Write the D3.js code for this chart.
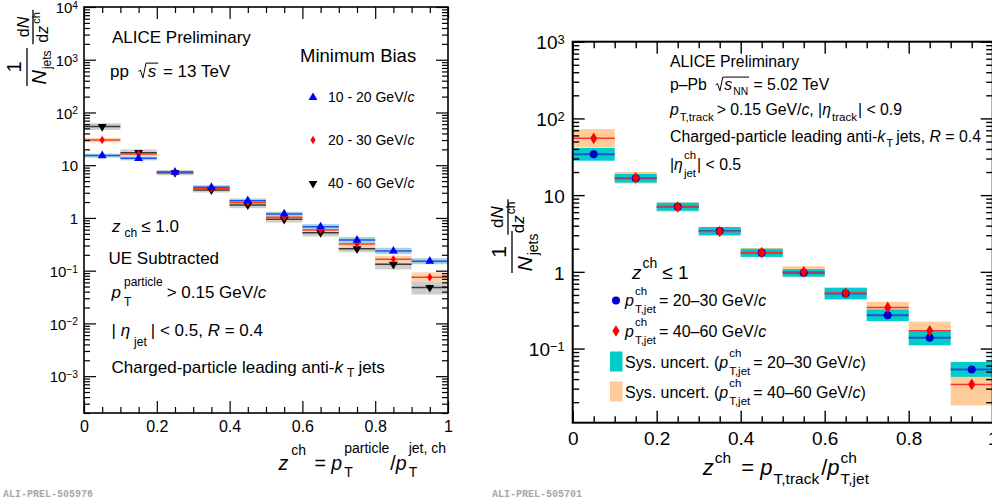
<!DOCTYPE html>
<html>
<head>
<meta charset="utf-8">
<script src="https://cdn.jsdelivr.net/npm/d3@7"></script>
<style>
  body { margin: 0; background: #fff; }
  svg { display: block; }
  text { font-family: "Liberation Sans", Arial, Helvetica, sans-serif; fill: #000; white-space: pre; }
</style>
</head>
<body>
<svg id="chart" width="992" height="500"></svg>
<script>
// ---- data ----
const zEdges = [0, 0.1, 0.2, 0.3, 0.4, 0.5, 0.6, 0.7, 0.8, 0.9, 1.0];
const xTickVals = [0, 0.2, 0.4, 0.6, 0.8, 1];

// pp 13 TeV, minimum bias (left)
const ppBins = ['10 - 20 GeV/', '20 - 30 GeV/', '40 - 60 GeV/'];
const pp1020 = [15.2, 13.5, 7.4, 3.8, 2.12, 1.19, 0.68, 0.38, 0.236, 0.151];
const pp2030 = [30, 16.3, 7.3, 3.6, 1.95, 1.03, 0.59, 0.32, 0.164, 0.075];
const pp4060 = [54, 17.3, 7.2, 3.4, 1.76, 0.94, 0.525, 0.26, 0.132, 0.048];
// systematic uncertainty as a multiplicative factor (box = value / f .. value * f)
const pp1020Sys = [1.09, 1.09, 1.08, 1.1, 1.1, 1.1, 1.12, 1.14, 1.15, 1.14];
const pp2030Sys = [1.1, 1.1, 1.08, 1.1, 1.14, 1.16, 1.18, 1.17, 1.17, 1.24];
const pp4060Sys = [1.155, 1.15, 1.12, 1.12, 1.15, 1.15, 1.18, 1.16, 1.25, 1.36];
const ppYTicks = [1e-3, 1e-2, 1e-1, 1, 10, 100, 1e3, 1e4];

// p-Pb 5.02 TeV (right)
const pPbBins = ['20\u201330 GeV/', '40\u201360 GeV/'];
const pPb2030 = [34, 16.6, 7.06, 3.4, 1.77, 0.97, 0.52, 0.271, 0.138, 0.0535];
const pPb4060 = [55, 16.8, 7.0, 3.35, 1.78, 1.0, 0.53, 0.344, 0.171, 0.0341];
const pPb2030Sys = [1.21, 1.14, 1.13, 1.13, 1.13, 1.12, 1.19, 1.19, 1.25, 1.25];
const pPb4060Sys = [1.32, 1.19, 1.15, 1.15, 1.15, 1.18, 1.18, 1.18, 1.31, 1.87];
const pPbYTicks = [0.1, 1, 10, 100, 1000];

const svg = d3.select('#chart');

// text with italics / sub / sup, laid out piece by piece
function rich(g, x, y, parts, size, anchor) {
  const grp = g.append('g');
  let cx = 0;
  const put = (t, dx, dy, fs, ital) => {
    const el = grp.append('text').attr('xml:space', 'preserve')
      .attr('x', cx + dx).attr('y', dy).attr('font-size', fs).text(t);
    if (ital) el.attr('font-style', 'italic');
    return el.node().getComputedTextLength();
  };
  parts.forEach(p => {
    if (typeof p === 'string') { cx += put(p, 0, 0, size); return; }
    if (p.sqrt) {
      const h = size * 0.8;
      const sx = cx;
      cx += size * 0.55;
      let w = put(p.sqrt, 0, 0, size, true);
      if (p.sqrtSub) w += put(p.sqrtSub, w + 1, size * 0.3, size * 0.65);
      grp.append('path')
        .attr('d', `M${sx},${-h * 0.42}L${sx + size * 0.12},${-h * 0.5}L${sx + size * 0.27},${size * 0.05}L${sx + size * 0.45},${-h * 1.02}L${cx + w + 2},${-h * 1.02}`)
        .attr('fill', 'none').attr('stroke', '#000').attr('stroke-width', 1);
      cx += w + 2;
      return;
    }
    if (p.i) cx += put(p.i, 0, 0, size, true);
    if (p.sup || p.sub) {
      const fs = p.fs || size * 0.7;
      const dx = p.dx || 1;
      const w1 = p.sup ? put(p.sup, dx, p.sy !== undefined ? p.sy : -size * 0.45, fs) : 0;
      const w2 = p.sub ? put(p.sub, dx, p.by !== undefined ? p.by : size * 0.32, fs) : 0;
      cx += Math.max(w1, w2) + dx + (p.after || 1);
    }
  });
  const off = anchor === 'end' ? cx : anchor === 'middle' ? cx / 2 : 0;
  grp.attr('transform', `translate(${x - off},${y})`);
  return cx;
}

// rotated fraction used in the y titles; bar at screen (bx, cy)
function frac(bx, cy, num, den, size) {
  const g = svg.append('g').attr('transform', `translate(${bx},${cy}) rotate(-90)`);
  const w1 = rich(g, 0, -size * 0.28, num, size, 'middle');
  const w2 = rich(g, 0, size * 0.95, den, size, 'middle');
  const w = Math.max(w1, w2) + 3;
  g.append('line').attr('x1', -w / 2).attr('x2', w / 2).attr('stroke', '#000').attr('stroke-width', 1.3);
}

function logMinors(y) {
  const [a, b] = y.domain();
  const out = [];
  for (let e = Math.floor(Math.log10(a)); e <= Math.ceil(Math.log10(b)); e++) {
    for (let m = 2; m <= 9; m++) {
      const v = m * Math.pow(10, e);
      if (v >= a && v <= b) out.push(v);
    }
  }
  return out;
}

function powLabels(sel, fs) {
  sel.selectAll('.tick text').each(function (d) {
    const e = Math.round(Math.log10(d));
    const t = d3.select(this).text('').attr('dy', '0.38em');
    if (e === 0) t.text('1');
    else if (e === 1) t.text('10');
    else {
      t.append('tspan').text('10');
      t.append('tspan').attr('dy', '-0.42em').attr('font-size', fs * 0.68).text(e < 0 ? '\u2212' + (-e) : e);
    }
  });
}

function axes(x, y, yTicks, c) {
  const [x0, x1] = x.range();
  const [y0, y1] = y.range();
  const xMinor = d3.range(0, 1.0001, 0.05).filter(v => Math.abs(v * 5 - Math.round(v * 5)) > 1e-6);
  const yMinor = logMinors(y);
  const g = svg.append('g');
  const tidy = s => { s.select('.domain').remove(); s.selectAll('.tick line').attr('stroke-width', c.tw); };

  const bx = g.append('g').attr('transform', `translate(0,${y0})`)
    .call(d3.axisBottom(x).tickValues(xTickVals).tickSize(-c.big).tickPadding(c.xPad).tickFormat(d3.format('~g')))
    .attr('font-size', c.xfs).attr('font-family', null);
  tidy(bx);
  g.append('g').attr('transform', `translate(0,${y0})`)
    .call(d3.axisBottom(x).tickValues(xMinor).tickSize(-c.small).tickFormat('')).call(tidy);
  g.append('g').attr('transform', `translate(0,${y1})`)
    .call(d3.axisTop(x).tickValues(xTickVals).tickSize(-c.big).tickFormat('')).call(tidy);
  g.append('g').attr('transform', `translate(0,${y1})`)
    .call(d3.axisTop(x).tickValues(xMinor).tickSize(-c.small).tickFormat('')).call(tidy);

  const ly = g.append('g').attr('transform', `translate(${x0},0)`)
    .call(d3.axisLeft(y).tickValues(yTicks).tickSize(-c.big).tickPadding(c.yPad))
    .attr('font-size', c.yfs).attr('font-family', null);
  tidy(ly);
  powLabels(ly, c.yfs);
  g.append('g').attr('transform', `translate(${x0},0)`)
    .call(d3.axisLeft(y).tickValues(yMinor).tickSize(-c.small).tickFormat('')).call(tidy);
  g.append('g').attr('transform', `translate(${x1},0)`)
    .call(d3.axisRight(y).tickValues(yTicks).tickSize(-c.big).tickFormat('')).call(tidy);
  g.append('g').attr('transform', `translate(${x1},0)`)
    .call(d3.axisRight(y).tickValues(yMinor).tickSize(-c.small).tickFormat('')).call(tidy);

  g.append('rect').attr('x', x0).attr('y', y1).attr('width', x1 - x0).attr('height', y0 - y1)
    .attr('fill', 'none').attr('stroke', '#000').attr('stroke-width', c.fw);
}

function boxes(g, x, y, vals, sys, color) {
  g.append('g').selectAll('rect').data(vals).join('rect')
    .attr('x', (d, i) => x(zEdges[i]))
    .attr('width', (d, i) => x(zEdges[i + 1]) - x(zEdges[i]))
    .attr('y', (d, i) => y(d * sys[i]))
    .attr('height', (d, i) => y(d / sys[i]) - y(d * sys[i]))
    .attr('fill', color);
}

function hlines(g, x, y, vals, color, lw) {
  g.append('g').selectAll('line').data(vals).join('line')
    .attr('x1', (d, i) => x(zEdges[i])).attr('x2', (d, i) => x(zEdges[i + 1]))
    .attr('y1', d => y(d)).attr('y2', d => y(d))
    .attr('stroke', color).attr('stroke-width', lw);
}

const mid = i => (zEdges[i] + zEdges[i + 1]) / 2;
const triUp = d3.symbol(d3.symbolTriangle, 34)();
const diamond = (w, h) => `M0,${-h}L${w},0L0,${h}L${-w},0Z`;

function markers(g, x, y, vals, shape, color, rot) {
  g.append('g').selectAll('path').data(vals).join('path')
    .attr('d', shape)
    .attr('transform', (d, i) => `translate(${x(mid(i))},${y(d)})` + (rot ? ' rotate(180)' : ''))
    .attr('fill', color);
}

// ================= left panel: pp 13 TeV =================
const xL = d3.scaleLinear().domain([0, 1]).range([84, 448]);
const yL = d3.scaleLog().domain([2e-4, 1e4]).range([413, 7]);
const gL = svg.append('g');

boxes(gL, xL, yL, pp4060, pp4060Sys, '#cdcdcd');
boxes(gL, xL, yL, pp2030, pp2030Sys, '#fdd2ac');
boxes(gL, xL, yL, pp1020, pp1020Sys, '#a2d5da');
hlines(gL, xL, yL, pp4060, '#3a3a3a', 1.5);
hlines(gL, xL, yL, pp2030, '#ff3b1e', 1.5);
hlines(gL, xL, yL, pp1020, '#2a4cf5', 1.5);
markers(gL, xL, yL, pp4060, triUp, '#000', true);
markers(gL, xL, yL, pp2030, diamond(2.6, 4.2), '#ff0000');
markers(gL, xL, yL, pp1020, triUp, '#0000ff');

axes(xL, yL, ppYTicks, { big: 12, small: 6, tw: 1.2, fw: 1.6, xPad: 7.5, yPad: 6, xfs: 16, yfs: 15 });

// left texts
rich(svg, 112, 43, ['ALICE Preliminary'], 17);
rich(svg, 110, 77, ['pp  ', { sqrt: 's' }, ' = 13 TeV'], 17);
rich(svg, 300, 62, ['Minimum Bias'], 18.5);
const legY = [97.5, 140, 183.5];
const legShapes = [[triUp, '#0000ff', false], [diamond(2.6, 4.2), '#ff0000', false], [triUp, '#000', true]];
ppBins.forEach((lab, k) => {
  svg.append('path').attr('d', legShapes[k][0]).attr('fill', legShapes[k][1])
    .attr('transform', `translate(313,${legY[k]})` + (legShapes[k][2] ? ' rotate(180)' : ''));
  rich(svg, 328, legY[k] + 4.5, [lab, { i: 'c' }], 14);
});
rich(svg, 112, 231.7, [{ i: 'z' }, { sub: 'ch', by: 5.5, dx: 4, fs: 12, after: 4 }, '\u2264 1.0'], 17);
rich(svg, 108.5, 263.5, ['UE Subtracted'], 17);
rich(svg, 111.5, 298, [{ i: 'p' }, { sup: 'particle', sub: 'T', sy: -12, by: 7.5, dx: 3, fs: 12, after: 4 }, '> 0.15 GeV/', { i: 'c' }], 17);
rich(svg, 111.5, 336, ['| ', { i: '\u03b7' }, { sub: 'jet', by: 10, dx: 4, fs: 12, after: 4 }, '| < 0.5, ', { i: 'R' }, ' = 0.4'], 17);
rich(svg, 111.5, 373, ['Charged-particle leading anti-', { i: 'k' }, { sub: 'T', by: 4, dx: 4, fs: 12, after: 4 }, 'jets'], 17);

// left axis titles
frac(27, 67, ['1'], [{ i: 'N' }, { sub: 'jets', by: 5, fs: 12 }], 20);
frac(33, 27, ['d', { i: 'N' }], ['d', { i: 'z' }, { sup: 'ch', sy: -8, fs: 11, dx: 2 }], 16);
rich(svg, 447, 470, [{ i: 'z' }, { sup: 'ch', sy: -15, fs: 14, dx: 3, after: 3 }, ' = ', { i: 'p' },
  { sup: 'particle', sub: 'T', sy: -17, by: 7, fs: 14, dx: 2, after: 1 }, '/', { i: 'p' },
  { sup: 'jet, ch', sub: 'T', sy: -17, by: 7, fs: 14, dx: 2 }], 19.5, 'end');

svg.append('text').attr('x', 3).attr('y', 497).attr('font-size', 10).attr('font-weight', 'bold')
  .style('font-family', '"Liberation Mono", "DejaVu Sans Mono", monospace').style('fill', '#a8a8a8')
  .text('ALI-PREL-505976');

// ================= right panel: p-Pb 5.02 TeV =================
const xR = d3.scaleLinear().domain([0, 1]).range([572.7, 992.7]);
const yR = d3.scaleLog().domain([0.0108, 1000]).range([422.7, 41.7]);
const gR = svg.append('g');

boxes(gR, xR, yR, pPb4060, pPb4060Sys, '#ffcc99');
boxes(gR, xR, yR, pPb2030, pPb2030Sys, '#00cccc');
hlines(gR, xR, yR, pPb2030, '#1f55cc', 2);
hlines(gR, xR, yR, pPb4060, '#ff3030', 1.5);
gR.append('g').selectAll('circle').data(pPb2030).join('circle')
  .attr('cx', (d, i) => xR(mid(i))).attr('cy', d => yR(d)).attr('r', 4).attr('fill', '#0000cc');
markers(gR, xR, yR, pPb4060, diamond(3.6, 5.8), '#ff0000');

axes(xR, yR, pPbYTicks, { big: 12, small: 6.5, tw: 1.4, fw: 2, xPad: 9, yPad: 8, xfs: 19, yfs: 19 });

// right texts
rich(svg, 670, 66.5, ['ALICE Preliminary'], 15.8);
rich(svg, 670, 90, ['p\u2013Pb  ', { sqrt: 's', sqrtSub: 'NN' }, ' = 5.02 TeV'], 15.8);
rich(svg, 670, 115, [{ i: 'p' }, { sub: 'T,track', by: 6, fs: 11.5, after: 3 }, '> 0.15 GeV/', { i: 'c' }, ', |',
  { i: '\u03b7' }, { sub: 'track', by: 6, fs: 11.5, after: 1 }, '| < 0.9'], 15.8);
rich(svg, 670, 141.5, ['Charged-particle leading anti-', { i: 'k' }, { sub: 'T', by: 5, fs: 11.5, after: 3 }, 'jets, ', { i: 'R' }, ' = 0.4'], 15.8);
rich(svg, 670, 170, ['|', { i: '\u03b7' }, { sup: 'ch', sub: 'jet', sy: -11, by: 7, fs: 11.5, after: 1 }, '| < 0.5'], 15.8);

rich(svg, 632, 278.5, [{ i: 'z' }, { sup: 'ch', sy: -11, fs: 14, dx: 1, after: 5 }, '\u2264 1'], 19);
const pLab = { sup: 'ch', sub: 'T,jet', sy: -11, by: 7, fs: 11.5, dx: 1, after: 3 };
svg.append('circle').attr('cx', 616).attr('cy', 300.5).attr('r', 4).attr('fill', '#0000cc');
rich(svg, 625, 306, [{ i: 'p' }, pLab, '= ' + pPbBins[0], { i: 'c' }], 16);
svg.append('path').attr('d', diamond(3.6, 5.8)).attr('fill', '#ff0000').attr('transform', 'translate(616,331)');
rich(svg, 625, 336.5, [{ i: 'p' }, pLab, '= ' + pPbBins[1], { i: 'c' }], 16);
svg.append('rect').attr('x', 610).attr('y', 351.5).attr('width', 12.5).attr('height', 20).attr('fill', '#00cccc');
rich(svg, 625, 368, ['Sys. uncert. (', { i: 'p' }, pLab, '= ' + pPbBins[0], { i: 'c' }, ')'], 16);
svg.append('rect').attr('x', 610).attr('y', 381.5).attr('width', 12.5).attr('height', 20).attr('fill', '#ffcc99');
rich(svg, 625, 398, ['Sys. uncert. (', { i: 'p' }, pLab, '= ' + pPbBins[1], { i: 'c' }, ')'], 16);

// right axis titles
frac(512, 252, ['1'], [{ i: 'N' }, { sub: 'jets', by: 6, fs: 14 }], 21);
frac(508, 217, ['d', { i: 'N' }], ['d', { i: 'z' }, { sup: 'ch', sy: -9, fs: 12 }], 17);
rich(svg, 870, 475, [{ i: 'z' }, { sup: 'ch', sy: -12, fs: 15.5, dx: 1, after: 4 }, ' = ', { i: 'p' },
  { sub: 'T,track', by: 9, fs: 15.5, dx: 1, after: 2 }, '/', { i: 'p' },
  { sup: 'ch', sub: 'T,jet', sy: -12, by: 9, fs: 15.5, dx: 1 }], 22, 'end');

svg.append('text').attr('x', 492).attr('y', 497).attr('font-size', 10).attr('font-weight', 'bold')
  .style('font-family', '"Liberation Mono", "DejaVu Sans Mono", monospace').style('fill', '#a8a8a8')
  .text('ALI-PREL-505701');
</script>
</body>
</html>
